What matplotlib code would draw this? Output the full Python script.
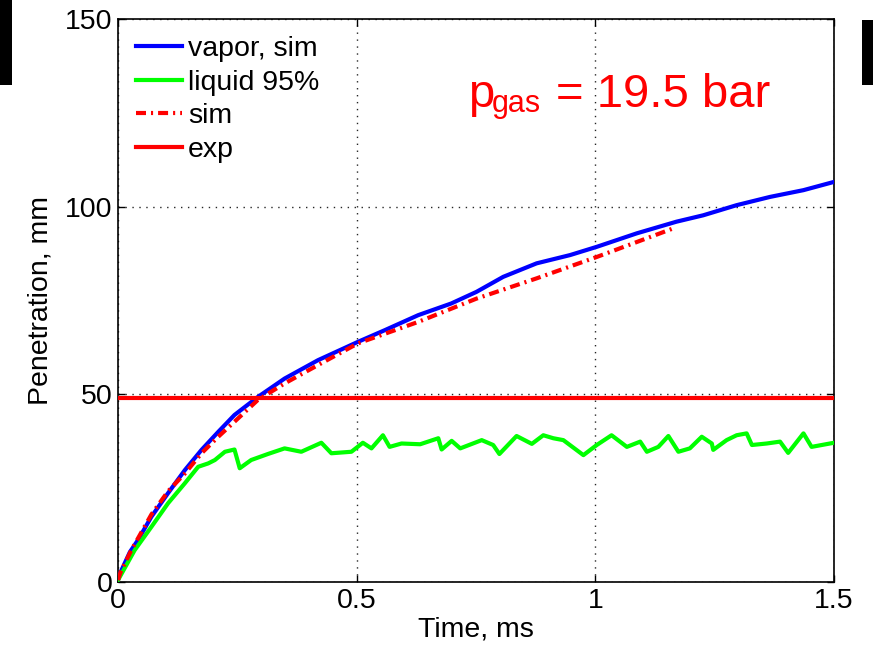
import matplotlib
matplotlib.use("Agg")
import matplotlib.pyplot as plt
from matplotlib.patches import Rectangle

plt.rcParams['font.family'] = ['Liberation Sans', 'DejaVu Sans']

# ---- data ----
vapor_t = [0, 0.005, 0.025, 0.042, 0.07, 0.105, 0.14, 0.175, 0.21, 0.244, 0.293,
           0.349, 0.419, 0.503, 0.559, 0.629, 0.698, 0.751, 0.807, 0.877, 0.947,
           1.003, 1.087, 1.17, 1.226, 1.296, 1.366, 1.436, 1.5]
vapor_v = [0.5, 2.5, 8.0, 11.2, 17.4, 23.7, 29.8, 35.2, 40.0, 44.5, 49.3,
           54.2, 59.1, 64.0, 67.1, 71.1, 74.2, 77.3, 81.3, 84.9, 87.1,
           89.3, 92.9, 96.0, 97.7, 100.4, 102.6, 104.4, 106.6]

liquid_t = [0, 0.035, 0.07, 0.105, 0.14, 0.168, 0.189, 0.203, 0.224, 0.244, 0.255,
            0.279, 0.314, 0.349, 0.384, 0.426, 0.447, 0.489, 0.513, 0.531, 0.555,
            0.569, 0.594, 0.633, 0.671, 0.678, 0.699, 0.717, 0.762, 0.786, 0.799,
            0.835, 0.867, 0.891, 0.912, 0.933, 0.975, 1.003, 1.034, 1.066, 1.094,
            1.108, 1.132, 1.153, 1.174, 1.198, 1.223, 1.244, 1.247, 1.275, 1.296,
            1.317, 1.328, 1.359, 1.387, 1.404, 1.436, 1.453, 1.5]
liquid_v = [0.5, 8.5, 14.7, 21.0, 26.3, 30.7, 31.6, 32.5, 34.7, 35.3, 30.3,
            32.5, 34.1, 35.6, 34.7, 37.1, 34.3, 34.7, 37.1, 35.6, 39.1,
            36.0, 36.9, 36.7, 38.3, 35.3, 37.6, 35.6, 37.8, 36.5, 34.1,
            38.9, 36.8, 39.1, 38.3, 37.8, 33.8, 36.5, 39.1, 36.0, 37.4,
            34.7, 36.0, 38.9, 34.7, 35.6, 38.7, 36.9, 35.2, 37.8, 39.1,
            39.6, 36.5, 36.9, 37.4, 34.4, 39.6, 36.0, 37.1]

sim_t = [0, 0.005, 0.028, 0.07, 0.105, 0.14, 0.175, 0.21, 0.244, 0.293, 0.349,
         0.419, 0.503, 0.629, 0.751, 0.877, 1.003, 1.163]
sim_v = [0.5, 2.5, 8.5, 18.0, 24.2, 28.9, 34.3, 38.7, 42.7, 48.5, 52.9,
         57.8, 63.6, 69.3, 75.5, 80.9, 86.6, 94.2]

exp_t = [0, 1.5]
exp_v = [49.0, 49.0]

labels = ['vapor, sim', 'liquid 95%', 'sim', 'exp']
xticks = [0, 0.5, 1, 1.5]
xticklabels = ['0', '0.5', '1', '1.5']
yticks = [0, 50, 100, 150]
yticklabels = ['0', '50', '100', '150']

# ---- figure ----
W, H = 873, 657
fig = plt.figure(figsize=(W / 100, H / 100), dpi=100, facecolor='white')

def fx(px):
    return px / W

def fy(py):
    return 1 - py / H

# black edge bars
fig.patches.append(Rectangle((fx(0), fy(85)), fx(12), 85 / H, transform=fig.transFigure,
                             facecolor='black', edgecolor='none', zorder=0))
fig.patches.append(Rectangle((fx(862), fy(85)), fx(11), 65 / H, transform=fig.transFigure,
                             facecolor='black', edgecolor='none', zorder=0))

ax = fig.add_axes([fx(118), fy(582), fx(834) - fx(118), fy(19) - fy(582)])
fs = 20.5

lw = 3.0
ax.plot(vapor_t, vapor_v, color='#0000ff', lw=lw, label=labels[0], zorder=3)
ax.plot(liquid_t, liquid_v, color='#00ff00', lw=lw, label=labels[1], zorder=3)
ax.plot(sim_t, sim_v, color='#ff0000', lw=lw, linestyle=(0, (2.4, 1.2, 0.5, 1.2)),
        label=labels[2], zorder=4)
ax.plot(exp_t, exp_v, color='#ff0000', lw=lw, label=labels[3], zorder=5)

ax.set_xlim(0, 1.5)
ax.set_ylim(0, 150)
ax.set_xticks(xticks)
ax.set_xticklabels(xticklabels)
ax.set_yticks(yticks)
ax.set_yticklabels(yticklabels)
ax.tick_params(direction='in', length=5, width=1, top=True, right=True,
               labelsize=fs, pad=4, colors='black')
for s in ax.spines.values():
    s.set_linewidth(1.2)
    s.set_color('black')
ax.grid(True, color='0.15', linestyle=(0, (1, 4)), linewidth=1.0)
ax.set_axisbelow(True)

ax.set_xlabel('Time, ms', fontsize=fs, labelpad=2)
ax.set_ylabel('Penetration, mm', fontsize=fs, labelpad=8)

leg = ax.legend(loc='upper left', bbox_to_anchor=(0.025, 0.969), frameon=False,
                fontsize=fs, handlelength=1.62, handletextpad=0.2,
                labelspacing=0.26, borderpad=0, borderaxespad=0)

# annotation p_gas = 19.5 bar
red = '#ff0000'
fig.text(fx(468), fy(107), 'p', fontsize=34, color=red, ha='left', va='baseline')
fig.text(fx(492), fy(112), 'gas', fontsize=22, color=red, ha='left', va='baseline')
fig.text(fx(556), fy(107), '= 19.5 bar', fontsize=34, color=red, ha='left', va='baseline')

fig.savefig('out.png', dpi=100, facecolor='white')
